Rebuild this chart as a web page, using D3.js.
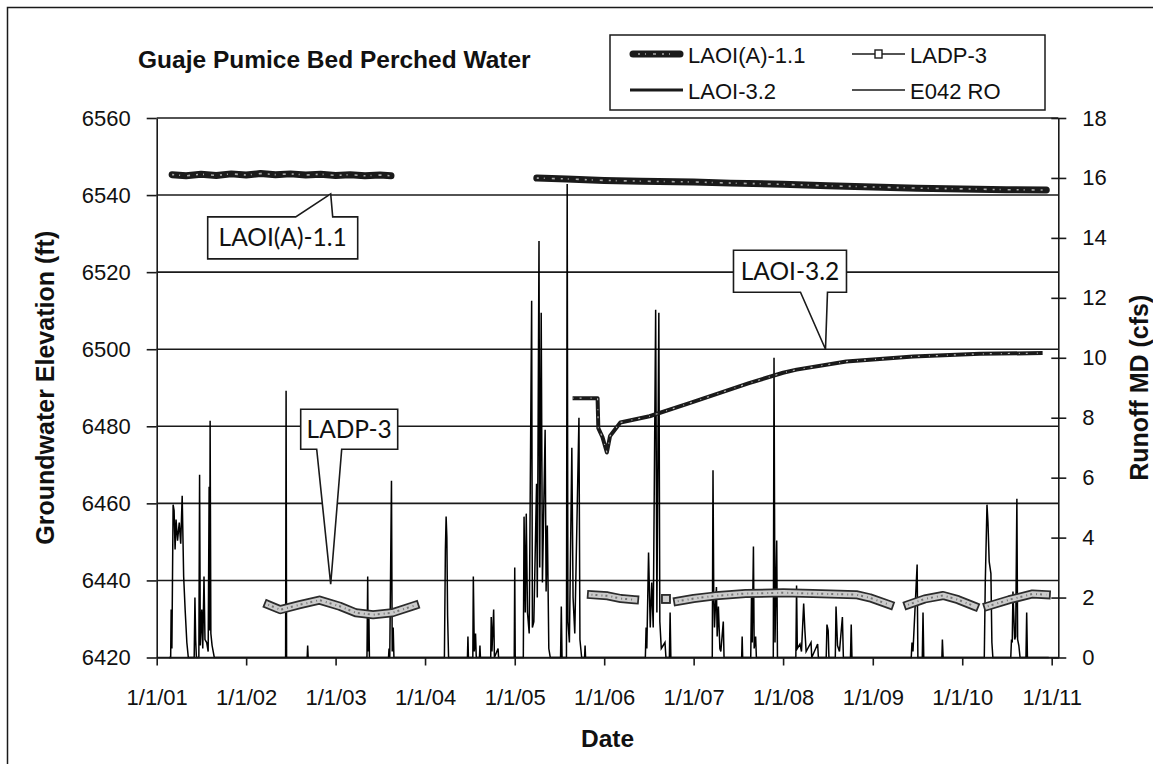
<!DOCTYPE html>
<html>
<head>
<meta charset="utf-8">
<script src="https://cdn.jsdelivr.net/npm/d3@7"></script>
<style>
  html, body { margin: 0; padding: 0; background: #fff; }
  svg { display: block; font-family: "Liberation Sans", Arial, sans-serif; }
</style>
</head>
<body>
<svg id="chart" width="1153" height="764"></svg>
<script>
// ---- Data -------------------------------------------------------------
const elevTicks = [6420, 6440, 6460, 6480, 6500, 6520, 6540, 6560];
const runoffTicks = [0, 2, 4, 6, 8, 10, 12, 14, 16, 18];
const dateTicks = ["2001-01-01","2002-01-01","2003-01-01","2004-01-01","2005-01-01",
                   "2006-01-01","2007-01-01","2008-01-01","2009-01-01","2010-01-01","2011-01-01"];

// Groundwater elevation (ft); null marks a gap in the record
const laoiA11 = [
  ["2001-03-05",6545.3],["2001-05-01",6545.0],["2001-07-01",6545.4],["2001-09-01",6545.1],
  ["2001-11-01",6545.5],["2002-01-01",6545.2],["2002-03-01",6545.6],["2002-05-01",6545.3],
  ["2002-07-01",6545.5],["2002-09-01",6545.2],["2002-11-01",6545.4],["2003-01-01",6545.1],
  ["2003-03-01",6545.3],["2003-05-01",6545.0],["2003-07-01",6545.2],["2003-08-15",6545.0],
  ["2004-06-01",null],
  ["2005-04-01",6544.4],["2005-08-01",6544.2],["2006-01-01",6543.8],["2006-06-01",6543.6],
  ["2007-01-01",6543.4],["2007-06-01",6543.1],["2008-01-01",6542.8],["2008-07-01",6542.4],
  ["2009-01-01",6542.1],["2009-07-01",6541.8],["2010-01-01",6541.6],["2010-07-01",6541.4],
  ["2010-12-10",6541.3]
];

const ladp3 = [
  ["2002-04-01",6433.7],["2002-05-20",6432.4],["2002-08-08",6433.7],["2002-10-27",6434.9],
  ["2003-01-18",6433.3],["2003-03-25",6431.6],["2003-06-03",6431.1],["2003-08-20",6431.6],
  ["2003-11-20",6433.5],
  ["2004-06-01",null],
  ["2005-11-10",6436.3],["2006-01-15",6436.0],["2006-03-10",6435.3],["2006-05-05",6435.0],
  ["2006-07-01",null],
  ["2006-09-10",6435.2],
  ["2006-10-01",null],
  ["2006-10-28",6434.6],["2007-01-01",6435.3],["2007-04-01",6436.0],["2007-08-01",6436.6],
  ["2008-01-01",6436.8],["2008-05-01",6436.6],["2008-10-25",6436.3],["2008-12-20",6435.5],
  ["2009-03-10",6433.7],
  ["2009-04-20",null],
  ["2009-05-25",6433.7],["2009-08-01",6435.2],["2009-10-15",6436.1],["2009-12-15",6435.0],
  ["2010-02-20",6433.3],
  ["2010-03-25",null],
  ["2010-04-15",6433.3],["2010-07-12",6435.0],["2010-10-15",6436.5],["2010-12-10",6436.3]
];

const laoi32 = [
  ["2005-08-25",6487.3],["2005-12-05",6487.3],["2005-12-08",6479.5],["2005-12-25",6477.2],
  ["2006-01-12",6473.2],["2006-01-25",6477.5],["2006-03-08",6481.0],["2006-07-05",6482.6],
  ["2006-12-15",6486.0],["2007-08-15",6491.2],["2008-01-01",6493.9],["2008-02-25",6494.7],
  ["2008-09-15",6496.8],["2009-06-15",6498.1],["2010-03-15",6498.8],["2010-11-25",6499.0]
];

// Runoff at gage E042 (cfs)
const runoff = [
  ["2001-02-20",0],["2001-02-27",0],["2001-03-01",1.6],["2001-03-04",0.3],
  ["2001-03-09",5.1],["2001-03-13",4.9],["2001-03-17",3.6],["2001-03-21",4.6],["2001-03-27",3.9],
  ["2001-04-03",4.5],["2001-04-09",3.8],["2001-04-15",5.4],["2001-04-21",2.7],["2001-04-27",1.6],
  ["2001-05-04",0.5],["2001-05-10",0],
  ["2001-06-03",0],["2001-06-06",2.0],["2001-06-09",0.6],["2001-06-12",0],
  ["2001-06-22",0],["2001-06-25",6.1],["2001-06-28",0.4],["2001-07-04",1.6],["2001-07-08",0.3],
  ["2001-07-13",2.7],["2001-07-17",0.6],["2001-07-24",0.5],["2001-07-30",0.2],["2001-08-03",5.7],
  ["2001-08-05",0.9],["2001-08-07",7.9],["2001-08-10",0.8],["2001-08-15",0.4],["2001-08-24",0],
  ["2002-06-11",0],["2002-06-13",8.9],["2002-06-15",0],
  ["2002-09-07",0],["2002-09-09",0.4],["2002-09-11",0],
  ["2003-05-09",0],["2003-05-12",2.7],["2003-05-14",0.2],["2003-05-17",1.3],["2003-05-19",0],
  ["2003-08-05",0],["2003-08-07",0.3],["2003-08-10",0],["2003-08-17",5.9],["2003-08-20",0.2],
  ["2003-08-24",1.0],["2003-08-27",0],
  ["2004-03-20",0],["2004-03-24",3.6],["2004-03-27",4.7],["2004-03-30",4.0],["2004-04-02",1.4],
  ["2004-04-06",0],
  ["2004-06-22",0],["2004-06-24",0.7],["2004-06-26",0],["2004-07-14",0],["2004-07-16",2.7],
  ["2004-07-20",0.2],["2004-07-25",0.8],["2004-07-28",0],["2004-08-10",0],["2004-08-12",0.4],
  ["2004-08-14",0],
  ["2004-09-25",0],["2004-09-27",1.35],["2004-09-30",0.2],["2004-10-07",1.6],["2004-10-10",0],
  ["2004-10-25",0.3],["2004-10-27",0],
  ["2004-12-30",0],["2005-01-01",3.0],["2005-01-03",0],
  ["2005-02-05",0],["2005-02-08",4.7],["2005-02-13",1.5],["2005-02-17",4.8],["2005-02-22",1.5],
  ["2005-03-01",0.8],["2005-03-11",11.9],["2005-03-14",1.0],["2005-03-20",1.2],["2005-03-31",5.8],
  ["2005-04-03",2.0],["2005-04-10",13.9],["2005-04-13",3.0],["2005-04-19",11.5],["2005-04-24",2.5],
  ["2005-05-05",7.6],["2005-05-09",2.2],["2005-05-14",4.4],["2005-05-20",0.3],["2005-05-26",0],
  ["2005-07-07",0],["2005-07-10",1.7],["2005-07-13",0],["2005-07-31",0],["2005-08-03",15.8],
  ["2005-08-06",1.2],["2005-08-12",0.5],["2005-08-22",7.0],["2005-08-27",2.0],["2005-09-03",0.8],
  ["2005-09-20",8.0],["2005-09-24",0.6],["2005-10-01",0],["2005-10-13",0],["2005-10-15",0.4],
  ["2005-10-17",0],
  ["2006-06-18",0],["2006-06-21",1.0],["2006-06-24",0.3],["2006-07-01",3.5],["2006-07-08",1.0],
  ["2006-07-14",2.5],["2006-07-20",1.0],["2006-07-30",11.6],["2006-08-04",1.5],["2006-08-12",11.5],
  ["2006-08-16",1.2],["2006-08-22",0.3],["2006-09-06",0.5],["2006-09-10",0],["2006-09-24",0],
  ["2006-09-27",1.5],["2006-09-30",0],
  ["2007-03-18",0],["2007-03-21",6.25],["2007-03-24",2.2],["2007-03-27",1.0],["2007-04-01",1.9],
  ["2007-04-04",2.35],["2007-04-07",0.7],["2007-04-12",1.7],["2007-04-18",0.3],["2007-04-22",0.2],
  ["2007-05-02",1.2],["2007-05-05",0],
  ["2007-07-16",0],["2007-07-18",0.7],["2007-07-20",0],["2007-08-22",0],["2007-08-25",2.0],
  ["2007-08-28",0.5],["2007-09-02",3.7],["2007-09-05",0.3],["2007-09-11",0.7],["2007-09-14",0],
  ["2007-11-22",0],["2007-11-25",10.0],["2007-11-29",0.5],["2007-12-06",3.9],["2007-12-09",0],
  ["2008-02-22",0],["2008-02-25",2.4],["2008-02-28",0.3],["2008-03-10",0.45],["2008-03-16",0.2],
  ["2008-03-25",1.8],["2008-03-30",0.9],["2008-04-04",0.2],["2008-04-24",0.5],["2008-04-27",0],
  ["2008-05-21",0.45],["2008-05-24",0],
  ["2008-06-25",0],["2008-06-28",1.1],["2008-07-03",0.9],["2008-07-06",0],["2008-08-01",0],
  ["2008-08-04",1.7],["2008-08-10",0.4],["2008-08-18",0.2],["2008-08-30",1.35],["2008-09-03",0],
  ["2008-10-02",0],["2008-10-05",1.1],["2008-10-08",0],
  ["2009-06-07",0],["2009-06-10",0.5],["2009-06-14",0.2],["2009-07-01",3.1],["2009-07-04",0],
  ["2009-07-22",0],["2009-07-25",1.5],["2009-07-28",0],
  ["2009-10-10",0],["2009-10-12",0.6],["2009-10-15",0],
  ["2010-04-01",0],["2010-04-05",2.5],["2010-04-12",5.1],["2010-04-16",4.5],["2010-04-21",3.2],
  ["2010-04-28",2.8],["2010-05-02",0.5],["2010-05-06",0],
  ["2010-07-18",0],["2010-07-21",0.6],["2010-07-24",0.5],["2010-07-27",2.2],["2010-08-03",0.6],
  ["2010-08-07",0.7],["2010-08-12",5.3],["2010-08-15",0.6],["2010-08-20",0.4],["2010-08-25",0],
  ["2010-09-18",0],["2010-09-21",1.5],["2010-09-24",0],
  ["2010-12-20",0]
];

// Callout labels: text, anchor date and elevation the pointer touches
const callouts = [
  { text: "LAOI(A)-1.1", date: "2002-12-12", elev: 6540.3,
    box: [-123, 23, 150, 42], tail: [-35, 2], up: true },
  { text: "LADP-3", date: "2002-12-12", elev: 6439.0,
    box: [-30, -175, 97, 40], tail: [-14, 11], up: false },
  { text: "LAOI-3.2", date: "2008-06-22", elev: 6500.0,
    box: [-92, -99, 113, 42], tail: [-25, 2], up: false }
];

// ---- Layout -----------------------------------------------------------
const parse = d3.utcParse("%Y-%m-%d");
const plot = { left: 156.7, right: 1058.3, top: 118, bottom: 657.5 };

const x = d3.scaleUtc()
  .domain([parse("2001-01-01"), parse("2011-01-28")])
  .range([plot.left, plot.right]);
const yL = d3.scaleLinear().domain([6420, 6560]).range([plot.bottom, plot.top]);
const yR = d3.scaleLinear().domain([0, 18]).range([plot.bottom, plot.top]);

const svg = d3.select("#chart");
const ink = "#1a1a1a";

// outer chart frame (only its top and left edges fall inside the page)
svg.append("rect")
  .attr("x", 7.5).attr("y", 7.5).attr("width", 1300).attr("height", 900)
  .attr("fill", "none").attr("stroke", ink).attr("stroke-width", 1.5);

// horizontal gridlines
svg.append("g").selectAll("line").data(elevTicks).join("line")
  .attr("x1", plot.left).attr("x2", plot.right)
  .attr("y1", d => yL(d)).attr("y2", d => yL(d))
  .attr("stroke", ink).attr("stroke-width", 1.6);

// ---- Series ----------------------------------------------------------
const elevLine = d3.line()
  .defined(d => d[1] !== null)
  .x(d => x(parse(d[0])))
  .y(d => yL(d[1]));

const runoffLine = d3.line()
  .x(d => x(parse(d[0])))
  .y(d => yR(d[1]));

// runoff drawn first, under the groundwater series
svg.append("path").datum(runoff)
  .attr("d", runoffLine)
  .attr("fill", "none").attr("stroke", "#000").attr("stroke-width", 1.5)
  .attr("stroke-linejoin", "miter");

// LADP-3 : light grey band of outlined square markers
function ladpStyle(sel) {
  sel.append("path").datum(ladp3).attr("d", elevLine)
    .attr("fill", "none").attr("stroke", "#2c2c2c").attr("stroke-width", 9)
    .attr("stroke-linecap", "square").attr("stroke-linejoin", "round");
  sel.append("path").datum(ladp3).attr("d", elevLine)
    .attr("fill", "none").attr("stroke", "#cbcbcb").attr("stroke-width", 5.5)
    .attr("stroke-linecap", "square").attr("stroke-linejoin", "round");
  sel.append("path").datum(ladp3).attr("d", elevLine)
    .attr("fill", "none").attr("stroke", "#777").attr("stroke-width", 2)
    .attr("stroke-dasharray", "1 3 2 4");
}
const gLadp = svg.append("g");
ladpStyle(gLadp);
// isolated readings (no neighbour on either side) drawn as single markers
ladp3.forEach((d, i) => {
  if (d[1] === null) return;
  const prev = ladp3[i - 1], next = ladp3[i + 1];
  if ((!prev || prev[1] === null) && (!next || next[1] === null)) {
    gLadp.append("rect")
      .attr("x", x(parse(d[0])) - 4).attr("y", yL(d[1]) - 4)
      .attr("width", 8).attr("height", 8)
      .attr("fill", "#cbcbcb").attr("stroke", "#2c2c2c").attr("stroke-width", 1.8);
  }
});

// LAOI-3.2 : dark line with small pale markers
svg.append("path").datum(laoi32).attr("d", elevLine)
  .attr("fill", "none").attr("stroke", ink).attr("stroke-width", 4)
  .attr("stroke-linejoin", "round");
svg.append("path").datum(laoi32).attr("d", elevLine)
  .attr("fill", "none").attr("stroke", "#b5b5b5").attr("stroke-width", 1.2)
  .attr("stroke-dasharray", "1 6 2 9");

// LAOI(A)-1.1 : heavy dark line of filled markers
svg.append("path").datum(laoiA11).attr("d", elevLine)
  .attr("fill", "none").attr("stroke", ink).attr("stroke-width", 7)
  .attr("stroke-linecap", "round").attr("stroke-linejoin", "round");
svg.append("path").datum(laoiA11).attr("d", elevLine)
  .attr("fill", "none").attr("stroke", "#a8a8a8").attr("stroke-width", 1.6)
  .attr("stroke-dasharray", "2 5 1 7 3 6");

// ---- Axes ------------------------------------------------------------
const fontTick = 22;

const leftAxis = svg.append("g")
  .attr("transform", `translate(${plot.left},0)`)
  .call(d3.axisLeft(yL).tickValues(elevTicks).tickFormat(d3.format("d"))
    .tickSize(10).tickSizeOuter(0).tickPadding(16));

const rightAxis = svg.append("g")
  .attr("transform", `translate(${plot.right},0)`)
  .call(d3.axisRight(yR).tickValues(runoffTicks).tickFormat(d3.format("d"))
    .tickSize(8).tickSizeOuter(0).tickPadding(16));
rightAxis.selectAll(".tick line").attr("x1", -7);

const bottomAxis = svg.append("g")
  .attr("transform", `translate(0,${plot.bottom})`)
  .call(d3.axisBottom(x).tickValues(dateTicks.map(parse))
    .tickFormat(d3.utcFormat("%-m/%-d/%y")).tickSize(8).tickSizeOuter(0).tickPadding(24));

[leftAxis, rightAxis, bottomAxis].forEach(g => {
  g.selectAll("path.domain").attr("stroke", ink).attr("stroke-width", 1.6);
  g.selectAll(".tick line").attr("stroke", ink).attr("stroke-width", 1.6);
  g.selectAll(".tick text").attr("fill", "#111")
    .style("font-family", '"Liberation Sans", Arial, sans-serif').style("font-size", fontTick + "px");
});

// ---- Titles ----------------------------------------------------------
const bold = size => sel => sel.attr("font-weight", "bold").attr("fill", "#111").style("font-size", size + "px");

svg.append("text").text("Guaje Pumice Bed Perched Water")
  .attr("x", 138).attr("y", 68).call(bold(24.5));

svg.append("text").text("Date")
  .attr("x", (plot.left + plot.right) / 2).attr("y", 747)
  .attr("text-anchor", "middle").call(bold(24.5));

svg.append("text").text("Groundwater Elevation (ft)")
  .attr("transform", `translate(45,${(plot.top + plot.bottom) / 2}) rotate(-90)`)
  .attr("dy", "0.36em").attr("text-anchor", "middle").call(bold(25));

svg.append("text").text("Runoff MD (cfs)")
  .attr("transform", `translate(1139,${(plot.top + plot.bottom) / 2}) rotate(-90)`)
  .attr("dy", "0.36em").attr("text-anchor", "middle").call(bold(25));

// ---- Legend ----------------------------------------------------------
const legend = svg.append("g");
legend.append("rect")
  .attr("x", 610).attr("y", 35).attr("width", 435).attr("height", 75)
  .attr("fill", "#fff").attr("stroke", ink).attr("stroke-width", 1.5);

const legendItems = [
  { name: "LAOI(A)-1.1", col: 0, row: 0 },
  { name: "LADP-3",      col: 1, row: 0 },
  { name: "LAOI-3.2",    col: 0, row: 1 },
  { name: "E042 RO",     col: 1, row: 1 }
];
const colX = [630, 852], rowY = [54, 90];

legendItems.forEach(item => {
  const x0 = colX[item.col], x1 = x0 + 53, yy = rowY[item.row];
  const g = legend.append("g");
  if (item.name === "LAOI(A)-1.1") {
    g.append("line").attr("x1", x0 + 3).attr("x2", x1 - 3).attr("y1", yy).attr("y2", yy)
      .attr("stroke", ink).attr("stroke-width", 7).attr("stroke-linecap", "round");
    g.append("line").attr("x1", x0 + 8).attr("x2", x1 - 6).attr("y1", yy).attr("y2", yy)
      .attr("stroke", "#a8a8a8").attr("stroke-width", 1.6).attr("stroke-dasharray", "2 5 1 7 3 6");
  } else if (item.name === "LADP-3") {
    g.append("line").attr("x1", x0).attr("x2", x1).attr("y1", yy).attr("y2", yy)
      .attr("stroke", ink).attr("stroke-width", 1.4);
    g.append("rect").attr("x", x0 + 23).attr("y", yy - 4).attr("width", 7).attr("height", 8)
      .attr("fill", "#fff").attr("stroke", ink).attr("stroke-width", 1.4);
  } else if (item.name === "LAOI-3.2") {
    g.append("line").attr("x1", x0).attr("x2", x1).attr("y1", yy).attr("y2", yy)
      .attr("stroke", ink).attr("stroke-width", 3);
  } else {
    g.append("line").attr("x1", x0).attr("x2", x1).attr("y1", yy).attr("y2", yy)
      .attr("stroke", ink).attr("stroke-width", 1.4);
  }
  g.append("text").text(item.name)
    .attr("x", x1 + 5).attr("y", yy + 9)
    .attr("fill", "#111").style("font-size", "22px");
});

// ---- Callouts --------------------------------------------------------
callouts.forEach(c => {
  const tx = x(parse(c.date)), ty = yL(c.elev);
  const [bx, by, bw, bh] = c.box;
  const L = tx + bx, T = ty + by, R = L + bw, B = T + bh;
  const t0 = tx + c.tail[0], t1 = tx + c.tail[1];
  let p;
  if (c.up) {
    p = `M${L},${T}L${t0},${T}L${tx},${ty}L${t1},${T}L${R},${T}L${R},${B}L${L},${B}Z`;
  } else {
    p = `M${L},${T}L${R},${T}L${R},${B}L${t1},${B}L${tx},${ty}L${t0},${B}L${L},${B}Z`;
  }
  svg.append("path").attr("d", p)
    .attr("fill", "#fff").attr("stroke", ink).attr("stroke-width", 1.6)
    .attr("stroke-linejoin", "miter");
  svg.append("text").text(c.text)
    .attr("x", (L + R) / 2).attr("y", (T + B) / 2)
    .attr("dy", "0.35em").attr("text-anchor", "middle")
    .attr("fill", "#111")
    .style("font-family", "Lato, 'Open Sans', sans-serif").style("font-size", "24.5px");
});
</script>
</body>
</html>
